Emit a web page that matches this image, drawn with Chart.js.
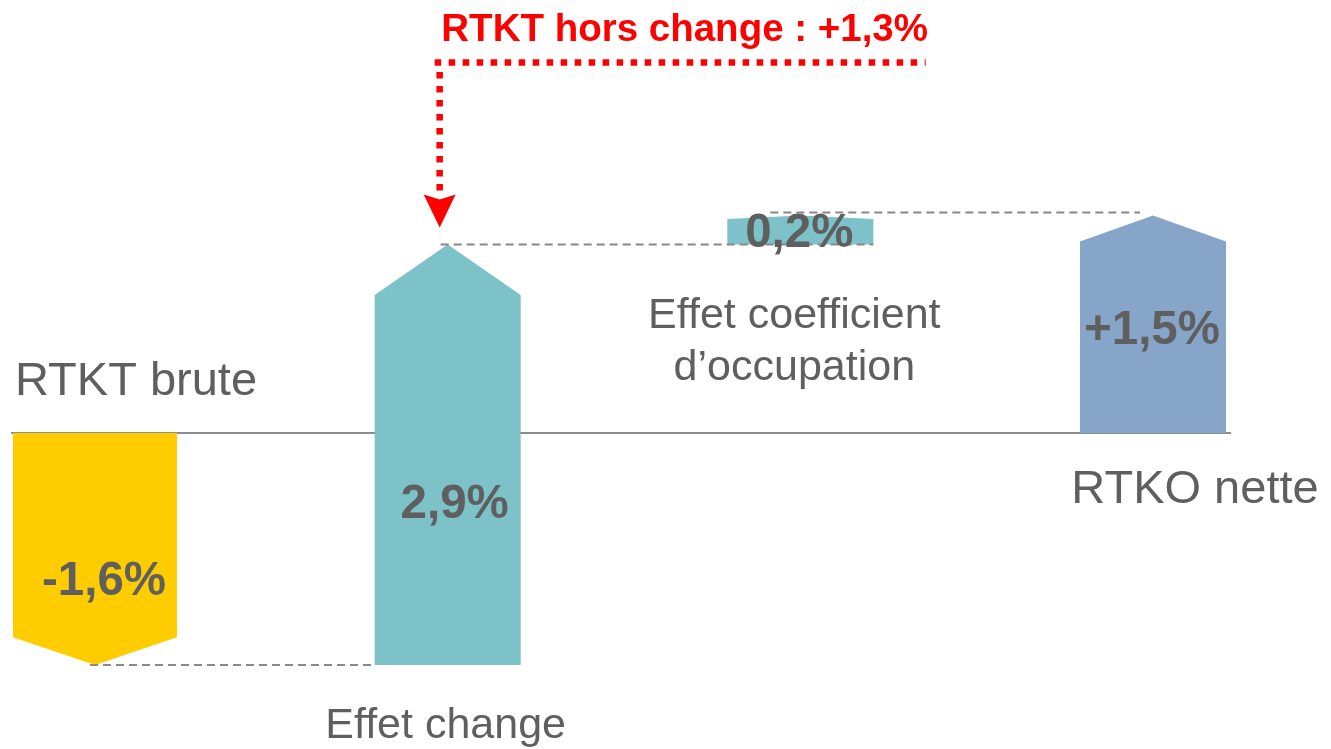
<!DOCTYPE html>
<html>
<head>
<meta charset="utf-8">
<title>RTKT / RTKO</title>
<script src="https://cdn.jsdelivr.net/npm/chart.js@4.4.0/dist/chart.umd.min.js"></script>
<style>
  html, body { margin: 0; padding: 0; background: #fff; }
  canvas { display: block; }
</style>
</head>
<body>
<canvas id="chart" width="1331" height="749"></canvas>
<script>
// data
const categories = ['RTKT brute', 'Effet change', 'Effet coefficient\nd’occupation', 'RTKO nette'];
const barStarts = [0, -1.6, 1.3, 0];
const barEnds = [-1.6, 1.3, 1.5, 1.5];
const valueLabels = ['-1,6%', '2,9%', '0,2%', '+1,5%'];
const annotationText = 'RTKT hors change : +1,3%';

// styles
const barColors = ['#FFCC00', '#7CC2C8', '#7CC2C8', '#86A5C9'];
const barWidths = [164, 146, 146, 146];
const FONT = "'Liberation Sans', Arial, sans-serif";
const TEXT_GREY = '#5F5F5F';

const datasets = categories.map((c, i) => ({
    data: categories.map((_, j) => j === i ? [barStarts[i], barEnds[i]] : null),
    backgroundColor: barColors[i],
    barThickness: barWidths[i],
    grouped: false
}));

function barGeom(chart, i) {
    const bar = chart.getDatasetMeta(i).data[i];
    const y = chart.scales.y;
    const raw = chart.data.datasets[i].data[i];
    const yFrom = y.getPixelForValue(raw[0]);
    const yTo = y.getPixelForValue(raw[1]);
    return {
        x: bar.x,
        left: bar.x - bar.width / 2,
        right: bar.x + bar.width / 2,
        yFrom: yFrom,
        yTo: yTo,
        top: Math.min(yFrom, yTo),
        bottom: Math.max(yFrom, yTo)
    };
}

function dottedLine(ctx, x1, y1, x2, y2) {
    ctx.save();
    ctx.strokeStyle = '#FF0000';
    ctx.lineWidth = 6.5;
    ctx.lineCap = 'butt';
    ctx.setLineDash([6.5, 7.5]);
    ctx.beginPath();
    ctx.moveTo(x1, y1);
    ctx.lineTo(x2, y2);
    ctx.stroke();
    ctx.restore();
}

const arrowBars = {
    id: 'arrowBars',
    beforeDatasetsDraw(chart) {
        const ctx = chart.ctx;
        const y0 = chart.scales.y.getPixelForValue(0);
        const first = barGeom(chart, 0);
        const last = barGeom(chart, categories.length - 1);
        ctx.save();
        ctx.strokeStyle = '#8C8C8C';
        ctx.lineWidth = 2;
        ctx.beginPath();
        ctx.moveTo(first.left - 2, y0);
        ctx.lineTo(last.right + 5, y0);
        ctx.stroke();
        ctx.restore();
    },
    beforeDatasetDraw(chart, args) {
        const ctx = chart.ctx;
        const i = args.index;
        const g = barGeom(chart, i);
        const dir = Math.sign(g.yTo - g.yFrom);
        const head = Math.abs(g.yTo - g.yFrom) * 0.12;
        ctx.save();
        ctx.fillStyle = chart.data.datasets[i].backgroundColor;
        ctx.beginPath();
        ctx.moveTo(g.left, g.yFrom);
        ctx.lineTo(g.left, g.yTo - dir * head);
        ctx.lineTo(g.x, g.yTo);
        ctx.lineTo(g.right, g.yTo - dir * head);
        ctx.lineTo(g.right, g.yFrom);
        ctx.closePath();
        ctx.fill();
        ctx.restore();
        return false;
    },
    afterDatasetsDraw(chart) {
        const ctx = chart.ctx;
        const g = categories.map((_, i) => barGeom(chart, i));

        // dashed connectors
        ctx.save();
        ctx.strokeStyle = '#888888';
        ctx.lineWidth = 2;
        ctx.setLineDash([8, 5]);
        const links = [
            [g[0].x - 5, g[1].left, g[0].yTo],
            [g[1].x - 7, g[2].right, g[1].yTo],
            [g[2].x - 30, g[3].x - 13, g[2].yTo - 3]
        ];
        links.forEach(([x1, x2, yy]) => {
            ctx.beginPath();
            ctx.moveTo(x1, yy);
            ctx.lineTo(x2, yy);
            ctx.stroke();
        });
        ctx.restore();

        // value labels
        const valDx = [9, 7, -1, -1];
        const valDy = [46, 63, 17, 20];
        ctx.save();
        ctx.fillStyle = TEXT_GREY;
        ctx.font = 'bold 47.5px ' + FONT;
        ctx.textAlign = 'center';
        ctx.textBaseline = 'alphabetic';
        valueLabels.forEach((t, i) => {
            const mid = (g[i].top + g[i].bottom) / 2;
            ctx.fillText(t, g[i].x + valDx[i], mid + valDy[i]);
        });
        ctx.restore();

        // category labels
        const catStyle = [
            { size: 47, align: 'left', x: g[0].left + 2, y: g[0].top - 38 },
            { size: 43, align: 'center', x: g[1].x - 2, y: g[1].bottom + 73 },
            { size: 43, align: 'center', x: g[2].x - 6, y: g[2].bottom + 83 },
            { size: 47, align: 'center', x: g[3].x + 42, y: g[3].bottom + 70 }
        ];
        ctx.save();
        ctx.fillStyle = TEXT_GREY;
        ctx.textBaseline = 'alphabetic';
        categories.forEach((c, i) => {
            const s = catStyle[i];
            ctx.font = s.size + 'px ' + FONT;
            ctx.textAlign = s.align;
            c.split('\n').forEach((line, k) => ctx.fillText(line, s.x, s.y + k * 52));
        });
        ctx.restore();

        // red annotation pointing at the change bar
        const vx = g[1].x - 8;
        const tipY = g[1].top - 17;
        const baseY = tipY - 33;
        const hy = 62.5;
        dottedLine(ctx, vx - 5, hy, vx + 486, hy);
        dottedLine(ctx, vx, hy + 9.5, vx, baseY);
        ctx.save();
        ctx.fillStyle = '#FF0000';
        ctx.beginPath();
        ctx.moveTo(vx - 16, baseY);
        ctx.lineTo(vx, baseY + 5);
        ctx.lineTo(vx + 16, baseY);
        ctx.lineTo(vx, tipY);
        ctx.closePath();
        ctx.fill();
        ctx.font = 'bold 38.5px ' + FONT;
        ctx.textAlign = 'center';
        ctx.textBaseline = 'alphabetic';
        ctx.fillText(annotationText, vx + 245, 41);
        ctx.restore();
    }
};

new Chart(document.getElementById('chart').getContext('2d'), {
    type: 'bar',
    data: { labels: categories, datasets: datasets },
    options: {
        responsive: false,
        animation: false,
        layout: { padding: { left: 95, right: 178, top: 143, bottom: 26 } },
        scales: {
            x: { type: 'category', offset: false, display: false },
            y: { min: -2, max: 2, display: false }
        },
        plugins: {
            legend: { display: false },
            tooltip: { enabled: false }
        }
    },
    plugins: [arrowBars]
});
</script>
</body>
</html>
